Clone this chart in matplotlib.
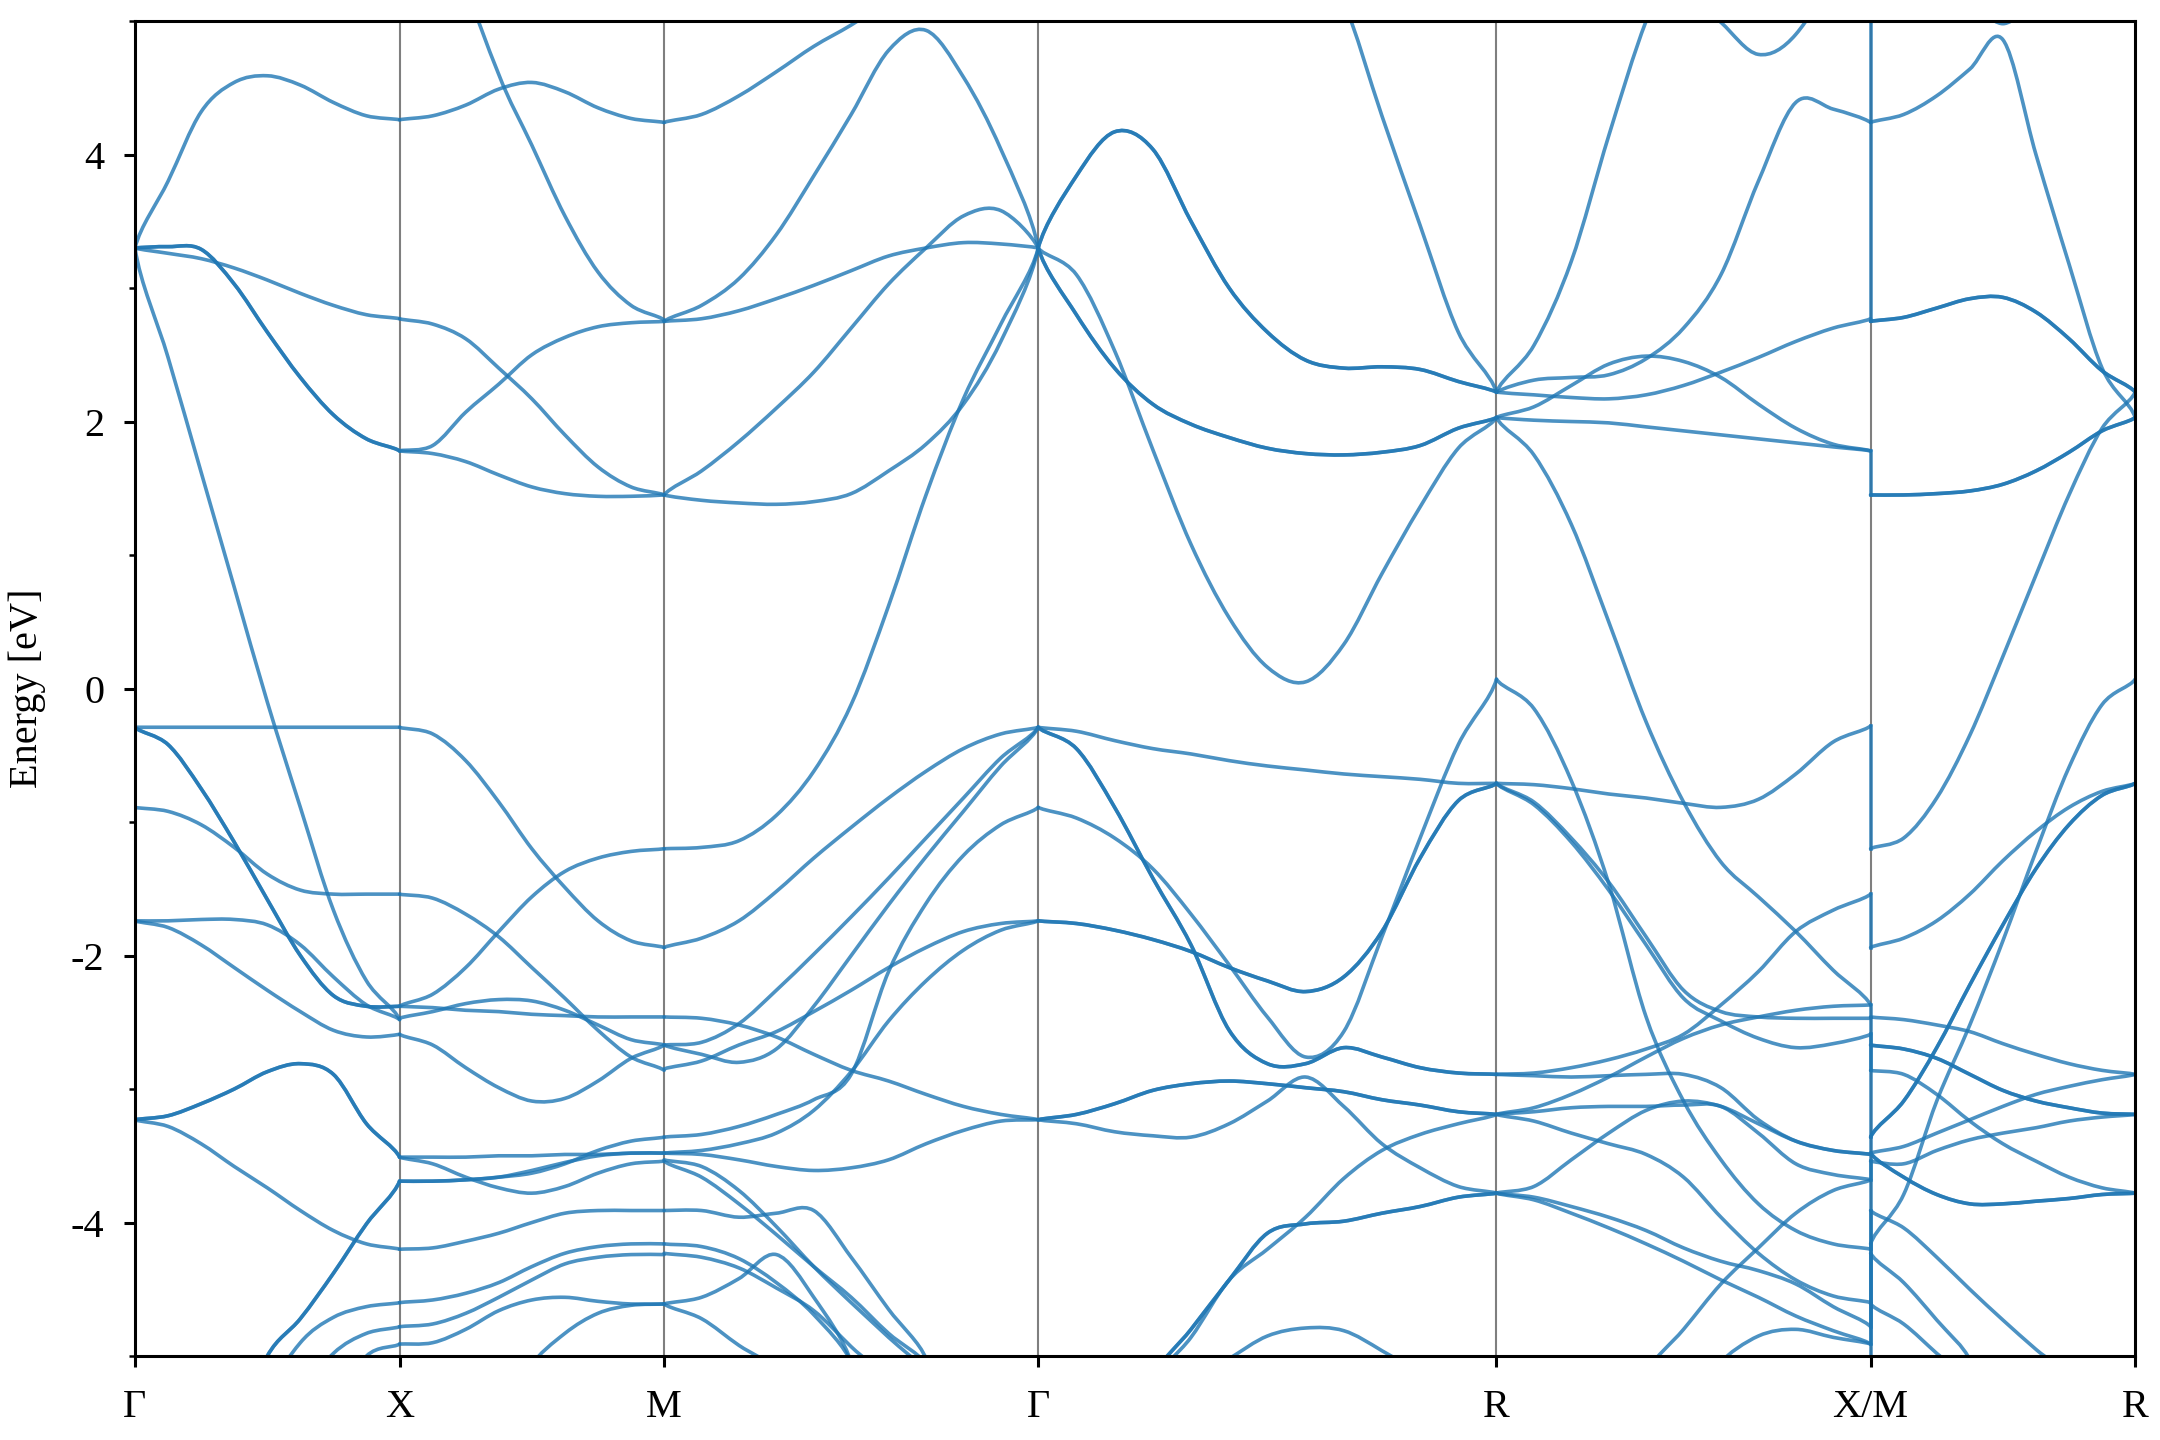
import numpy as np
import matplotlib
matplotlib.use("Agg")
import matplotlib.pyplot as plt
from matplotlib.path import Path
from matplotlib.patches import PathPatch

nan = np.nan

# ---------------- data ----------------
kpoint_labels = ["Γ", "X", "M", "Γ", "R", "X/M", "R"]
segment_lengths = [1.0, 1.0, np.sqrt(2), np.sqrt(3), np.sqrt(2), 1.0]

# Γ -> X  (9 samples)
GX_bands = [
    [3.30, 3.80, 4.32, 4.54, 4.59, 4.52, 4.39, 4.29, 4.26],
    [3.30, 3.31, 3.29, 3.03, 2.67, 2.33, 2.05, 1.87, 1.78],
    [3.30, 3.26, 3.22, 3.15, 3.06, 2.96, 2.87, 2.80, 2.77],
    [3.30, 2.48, 1.62, 0.76, -0.10, -0.89, -1.66, -2.19, -2.48],
    [-0.29, -0.29, -0.29, -0.29, -0.29, -0.29, -0.29, -0.29, -0.29],
    [-0.29, -0.42, -0.75, -1.15, -1.58, -2.00, -2.30, -2.38, -2.38],
    [-0.89, -0.92, -1.02, -1.19, -1.39, -1.51, -1.54, -1.54, -1.54],
    [-1.74, -1.74, -1.73, -1.73, -1.77, -1.92, -2.16, -2.37, -2.48],
    [-1.74, -1.79, -1.92, -2.09, -2.26, -2.42, -2.56, -2.61, -2.59],
    [-3.23, -3.20, -3.11, -3.00, -2.87, -2.81, -2.89, -3.26, -3.51],
    [-3.23, -3.28, -3.41, -3.58, -3.74, -3.91, -4.06, -4.16, -4.20],
    [nan, nan, nan, -5.60, -5.00, -4.72, -4.38, -4.01, -3.69],
    [nan, nan, nan, nan, -5.30, -4.90, -4.71, -4.63, -4.60],
    [nan, nan, nan, nan, nan, -5.30, -4.98, -4.83, -4.78],
    [nan, nan, nan, nan, nan, nan, -5.40, -5.00, -4.91],
]
GX_deg = [1, 2, 1, 1, 1, 2, 1, 1, 1, 2, 1, 2, 1, 1, 1]

# X -> M  (9 samples)
XM_bands = [
    [4.26, 4.29, 4.37, 4.49, 4.54, 4.47, 4.35, 4.27, 4.24],
    [nan, nan, 5.35, 4.60, 4.07, 3.54, 3.12, 2.87, 2.76],
    [2.77, 2.73, 2.62, 2.40, 2.17, 1.90, 1.66, 1.51, 1.45],
    [1.78, 1.82, 2.07, 2.28, 2.50, 2.63, 2.71, 2.74, 2.75],
    [1.78, 1.76, 1.70, 1.60, 1.51, 1.46, 1.44, 1.44, 1.45],
    [-0.29, -0.34, -0.54, -0.85, -1.20, -1.49, -1.74, -1.89, -1.94],
    [-1.54, -1.57, -1.69, -1.86, -2.09, -2.32, -2.56, -2.76, -2.86],
    [-2.38, -2.29, -2.09, -1.82, -1.56, -1.37, -1.27, -1.22, -1.20],
    [-2.38, -2.39, -2.41, -2.42, -2.44, -2.45, -2.46, -2.46, -2.46],
    [-2.47, -2.42, -2.36, -2.33, -2.34, -2.41, -2.52, -2.63, -2.67],
    [-2.59, -2.67, -2.84, -2.99, -3.09, -3.07, -2.94, -2.77, -2.67],
    [-3.51, -3.51, -3.51, -3.50, -3.50, -3.49, -3.49, -3.48, -3.48],
    [-3.51, -3.56, -3.66, -3.74, -3.78, -3.73, -3.63, -3.56, -3.54],
    [-3.69, -3.69, -3.68, -3.66, -3.63, -3.56, -3.46, -3.39, -3.36],
    [-3.69, -3.69, -3.68, -3.66, -3.61, -3.55, -3.50, -3.48, -3.48],
    [-4.20, -4.19, -4.14, -4.08, -4.00, -3.93, -3.91, -3.91, -3.91],
    [-4.60, -4.58, -4.53, -4.45, -4.33, -4.23, -4.18, -4.16, -4.16],
    [-4.78, -4.76, -4.68, -4.56, -4.43, -4.31, -4.26, -4.24, -4.24],
    [-4.91, -4.90, -4.80, -4.66, -4.58, -4.56, -4.59, -4.61, -4.61],
    [nan, nan, nan, nan, -5.07, -4.83, -4.68, -4.62, -4.61],
]
XM_deg = [1] * len(XM_bands)

# M -> Γ  (11 samples)
MG_bands = [
    [4.24, 4.30, 4.44, 4.62, 4.81, 4.97, 5.15, 5.30, nan, nan, nan],
    [2.75, 2.87, 3.07, 3.40, 3.84, 4.30, 4.78, 4.93, 4.58, 4.04, 3.30],
    [2.75, 2.77, 2.83, 2.92, 3.02, 3.13, 3.24, 3.30, 3.34, 3.33, 3.30],
    [1.45, 1.63, 1.85, 2.10, 2.37, 2.70, 3.03, 3.30, 3.54, 3.58, 3.30],
    [1.45, 1.41, 1.39, 1.38, 1.40, 1.46, 1.63, 1.83, 2.13, 2.60, 3.30],
    [-1.20, -1.19, -1.14, -0.95, -0.62, -0.12, 0.62, 1.45, 2.17, 2.73, 3.30],
    [-1.94, -1.87, -1.74, -1.52, -1.27, -1.04, -0.82, -0.62, -0.45, -0.34, -0.29],
    [-2.46, -2.47, -2.52, -2.61, -2.74, -2.86, -2.94, -3.04, -3.13, -3.19, -3.23],
    [-2.67, -2.65, -2.51, -2.26, -1.99, -1.71, -1.42, -1.12, -0.82, -0.52, -0.29],
    [-2.67, -2.74, -2.80, -2.70, -2.38, -2.00, -1.62, -1.26, -0.92, -0.58, -0.29],
    [-2.85, -2.79, -2.67, -2.57, -2.42, -2.26, -2.09, -1.94, -1.82, -1.76, -1.74],
    [-3.36, -3.34, -3.28, -3.19, -3.08, -2.89, -2.12, -1.61, -1.25, -1.02, -0.89],
    [-3.48, -3.46, -3.41, -3.33, -3.16, -2.87, -2.49, -2.19, -1.96, -1.81, -1.74],
    [-3.48, -3.49, -3.53, -3.58, -3.61, -3.59, -3.53, -3.41, -3.31, -3.24, -3.23],
    [-3.91, -3.91, -3.96, -3.93, -3.91, -4.26, -4.65, -5.02, nan, nan, nan],
    [-4.16, -4.18, -4.27, -4.45, -4.69, -5.05, nan, nan, nan, nan, nan],
    [-4.23, -4.26, -4.34, -4.49, -4.66, -4.93, -5.20, nan, nan, nan, nan],
    [-4.61, -4.56, -4.42, -4.24, -4.56, -5.05, nan, nan, nan, nan, nan],
    [-4.61, -4.72, -4.92, -5.10, nan, nan, nan, nan, nan, nan, nan],
    [-3.53, -3.58, -3.76, -4.03, -4.33, -4.60, -4.86, -5.13, nan, nan, nan],
    [-3.54, -3.66, -3.86, -4.09, -4.33, -4.56, -4.83, -5.06, nan, nan, nan],
]
MG_deg = [1] * len(MG_bands)

# Γ -> R  (13 samples)
GR_bands = [
    [3.30, 3.84, 4.17, 4.04, 3.50, 3.00, 2.67, 2.46, 2.40, 2.41, 2.39, 2.30, 2.22],
    [3.30, 2.80, 2.40, 2.13, 1.98, 1.88, 1.80, 1.76, 1.75, 1.77, 1.82, 1.95, 2.03],
    [3.30, 3.10, 2.53, 1.79, 1.08, 0.53, 0.16, 0.05, 0.33, 0.86, 1.36, 1.80, 2.03],
    [nan, nan, nan, nan, nan, nan, nan, 5.60, 5.14, 4.29, 3.47, 2.67, 2.22],
    [-0.29, -0.32, -0.39, -0.45, -0.49, -0.54, -0.58, -0.61, -0.64, -0.66, -0.68, -0.71, -0.71],
    [-0.29, -0.45, -0.89, -1.42, -1.92, -2.56, -2.81, -2.81, -2.69, -2.76, -2.84, -2.88, -2.89],
    [-0.89, -0.97, -1.12, -1.35, -1.69, -2.07, -2.46, -2.76, -2.57, -1.86, -1.12, -0.42, 0.07],
    [-1.74, -1.76, -1.81, -1.88, -1.97, -2.09, -2.19, -2.27, -2.16, -1.82, -1.27, -0.84, -0.71],
    [-3.23, -3.19, -3.11, -3.01, -2.96, -2.94, -2.96, -2.99, -3.02, -3.08, -3.12, -3.17, -3.19],
    [-3.23, -3.26, -3.32, -3.35, -3.36, -3.26, -3.09, -2.91, -3.13, -3.41, -3.59, -3.73, -3.78],
    [nan, nan, nan, -5.16, -4.80, -4.43, -4.08, -4.01, -3.99, -3.93, -3.88, -3.81, -3.78],
    [nan, nan, nan, -5.20, -4.86, -4.43, -4.20, -3.96, -3.67, -3.46, -3.34, -3.26, -3.19],
    [nan, nan, nan, nan, -5.20, -5.02, -4.85, -4.79, -4.81, -4.96, -5.15, nan, nan],
]
GR_deg = [2, 2, 1, 1, 1, 2, 1, 2, 2, 1, 2, 1, 1]

# R -> X  (11 samples)
RX_bands = [
    [2.22, 2.57, 3.20, 4.14, 5.00, 5.60, nan, nan, nan, nan, nan],
    [nan, nan, nan, nan, nan, 5.25, 4.99, 4.75, 4.90, 5.40, nan],
    [2.22, 2.31, 2.33, 2.35, 2.47, 2.70, 3.10, 3.80, 4.39, 4.34, 4.24],
    [2.22, 2.20, 2.18, 2.17, 2.20, 2.27, 2.37, 2.48, 2.60, 2.70, 2.77],
    [2.03, 2.11, 2.27, 2.43, 2.49, 2.45, 2.33, 2.13, 1.95, 1.83, 1.78],
    [2.03, 2.01, 2.00, 1.99, 1.96, 1.93, 1.90, 1.87, 1.84, 1.81, 1.78],
    [2.03, 1.75, 1.23, 0.50, -0.25, -0.85, -1.30, -1.56, -1.82, -2.11, -2.37],
    [-0.71, -0.72, -0.75, -0.79, -0.82, -0.86, -0.89, -0.83, -0.64, -0.40, -0.28],
    [-0.71, -0.85, -1.12, -1.45, -1.86, -2.26, -2.42, -2.46, -2.47, -2.47, -2.47],
    [-0.71, -0.87, -1.15, -1.51, -1.92, -2.32, -2.49, -2.62, -2.69, -2.66, -2.59],
    [0.07, -0.15, -0.69, -1.46, -2.46, -3.09, -3.53, -3.86, -4.06, -4.16, -4.20],
    [-2.89, -2.88, -2.84, -2.78, -2.70, -2.59, -2.37, -2.12, -1.82, -1.66, -1.54],
    [-2.89, -2.90, -2.91, -2.90, -2.89, -2.89, -2.99, -3.23, -3.39, -3.46, -3.49],
    [-3.19, -3.17, -3.14, -3.13, -3.13, -3.12, -3.13, -3.33, -3.56, -3.64, -3.68],
    [-3.19, -3.24, -3.33, -3.41, -3.49, -3.66, -3.96, -4.23, -4.43, -4.55, -4.60],
    [-3.19, -3.14, -3.04, -2.91, -2.76, -2.62, -2.52, -2.46, -2.41, -2.38, -2.37],
    [-3.78, -3.73, -3.53, -3.33, -3.16, -3.09, -3.13, -3.26, -3.39, -3.46, -3.49],
    [-3.78, -3.81, -3.88, -3.96, -4.06, -4.19, -4.29, -4.36, -4.46, -4.63, -4.78],
    [-3.78, -3.83, -3.93, -4.04, -4.16, -4.29, -4.43, -4.56, -4.70, -4.81, -4.91],
    [nan, nan, nan, nan, -5.13, -4.80, -4.46, -4.19, -3.93, -3.76, -3.68],
    [nan, nan, nan, nan, nan, nan, -5.05, -4.85, -4.80, -4.86, -4.91],
]
RX_deg = [1] * len(RX_bands)

# M -> R  (9 samples)
MR_bands = [
    [4.24, 4.30, 4.44, 4.64, 4.86, 4.00, 3.18, 2.40, 2.03],
    [2.75, 2.78, 2.85, 2.92, 2.93, 2.82, 2.62, 2.38, 2.22],
    [1.45, 1.45, 1.46, 1.48, 1.53, 1.63, 1.77, 1.93, 2.03],
    [-1.20, -1.12, -0.82, -0.35, 0.24, 0.85, 1.45, 1.95, 2.22],
    [nan, nan, nan, 5.20, 4.98, 5.20, nan, nan, nan],
    [-1.94, -1.87, -1.74, -1.54, -1.29, -1.07, -0.89, -0.77, -0.71],
    [-3.36, -3.09, -2.69, -2.22, -1.77, -1.35, -1.02, -0.80, -0.71],
    [-4.16, -3.79, -3.09, -2.52, -1.89, -1.22, -0.59, -0.12, 0.07],
    [-2.46, -2.48, -2.52, -2.57, -2.66, -2.74, -2.81, -2.86, -2.89],
    [-2.67, -2.70, -2.77, -2.89, -3.01, -3.09, -3.14, -3.18, -3.19],
    [-2.86, -2.89, -3.04, -3.24, -3.41, -3.54, -3.66, -3.74, -3.78],
    [-3.48, -3.43, -3.33, -3.23, -3.13, -3.04, -2.98, -2.93, -2.89],
    [-3.54, -3.56, -3.46, -3.38, -3.33, -3.29, -3.24, -3.21, -3.19],
    [-3.48, -3.66, -3.79, -3.86, -3.86, -3.84, -3.82, -3.79, -3.78],
    [-3.91, -4.04, -4.26, -4.50, -4.73, -4.95, -5.16, nan, nan],
    [-4.23, -4.45, -4.73, -5.03, nan, nan, nan, nan, nan],
    [-4.61, -4.76, -4.98, -5.20, nan, nan, nan, nan, nan],
]
MR_deg = [1, 2, 2, 1, 1, 1, 2, 1, 1, 2, 1, 1, 1, 2, 1, 1, 1]

# energies joined at the X/M discontinuity (value at X, value at M)
XM_jump_from = [5.30, 1.78, -0.28, -1.54, -2.37, -2.47, -2.59, -3.68, -4.20, -4.60, -4.78, -4.91, -5.30]
XM_jump_to   = [2.75, 1.45, -1.20, -1.94, -2.46, -3.36, -2.86, -3.36, -3.54, -3.91, -4.16, -4.24, -4.61]

y_ticks = [-4, -2, 0, 2, 4]
y_minor_ticks = [-5, -3, -1, 1, 3, 5]
y_limits = (-5, 5)
y_label = "Energy [eV]"

# ---------------- style ----------------
plt.rcParams["font.family"] = ["Liberation Serif", "DejaVu Serif"]
plt.rcParams["axes.unicode_minus"] = False
band_color = "#1f77b4"
band_alpha = 0.8
band_lw = 1.3
font_size = 14.5


def smooth_band_path(x, y):
    """Cubic Bezier path passing through every sampled point (drawing style only)."""
    x = np.asarray(x, float)
    y = np.asarray(y, float)
    verts, codes = [], []
    idx = np.flatnonzero(np.isfinite(y))
    if idx.size == 0:
        return None
    runs = np.split(idx, np.flatnonzero(np.diff(idx) > 1) + 1)
    for run in runs:
        px, py = x[run], y[run]
        n = len(run)
        verts.append((px[0], py[0]))
        codes.append(Path.MOVETO)
        for j in range(n - 1):
            jm = max(j - 1, 0)
            jp = min(j + 2, n - 1)
            f1 = 2.0 if j == 0 else 1.0
            f2 = 2.0 if jp == j + 1 else 1.0
            c1 = (px[j] + (px[j + 1] - px[jm]) / 6.0 * f1 / f1,
                  py[j] + (py[j + 1] - py[jm]) / 6.0 * f1)
            c2 = (px[j + 1] - (px[jp] - px[j]) / 6.0,
                  py[j + 1] - (py[jp] - py[j]) / 6.0 * f2)
            verts += [c1, c2, (px[j + 1], py[j + 1])]
            codes += [Path.CURVE4, Path.CURVE4, Path.CURVE4]
    return Path(verts, codes)


fig = plt.figure(figsize=(10.8, 7.2), dpi=200)
ax = fig.add_axes([0.0625, 0.0583, 0.926, 0.9271])

nodes = np.concatenate([[0.0], np.cumsum(segment_lengths)])

segments = [
    (GX_bands, GX_deg), (XM_bands, XM_deg), (MG_bands, MG_deg),
    (GR_bands, GR_deg), (RX_bands, RX_deg), (MR_bands, MR_deg),
]

for xv in nodes[1:-1]:
    ax.axvline(xv, color="#7f7f7f", lw=0.75, zorder=1)

for i, (bands, degs) in enumerate(segments):
    for band, deg in zip(bands, degs):
        k = np.linspace(nodes[i], nodes[i + 1], len(band))
        path = smooth_band_path(k, band)
        if path is None:
            continue
        for _ in range(deg):
            ax.add_patch(PathPatch(path, facecolor="none", edgecolor=band_color,
                                   alpha=band_alpha, lw=band_lw, capstyle="round",
                                   joinstyle="round", zorder=2))

for e0, e1 in zip(XM_jump_from, XM_jump_to):
    ax.plot([nodes[5], nodes[5]], [e0, e1], color=band_color, alpha=band_alpha,
            lw=band_lw, zorder=2)

ax.set_xlim(nodes[0], nodes[-1])
ax.set_ylim(*y_limits)
ax.set_xticks(nodes)
ax.set_xticklabels(kpoint_labels)
ax.set_yticks(y_ticks)
ax.set_yticklabels([str(v) for v in y_ticks])
ax.set_yticks(y_minor_ticks, minor=True)
ax.set_ylabel(y_label, fontsize=font_size, labelpad=9)

for s in ax.spines.values():
    s.set_linewidth(1.1)
ax.tick_params(axis="both", which="major", direction="out", length=4, width=1.1,
               labelsize=font_size)
ax.tick_params(axis="x", which="major", pad=8)
ax.tick_params(axis="y", which="major", pad=7)
ax.tick_params(axis="y", which="minor", direction="out", length=2.2, width=0.9)

fig.savefig("out.png", dpi=200)
